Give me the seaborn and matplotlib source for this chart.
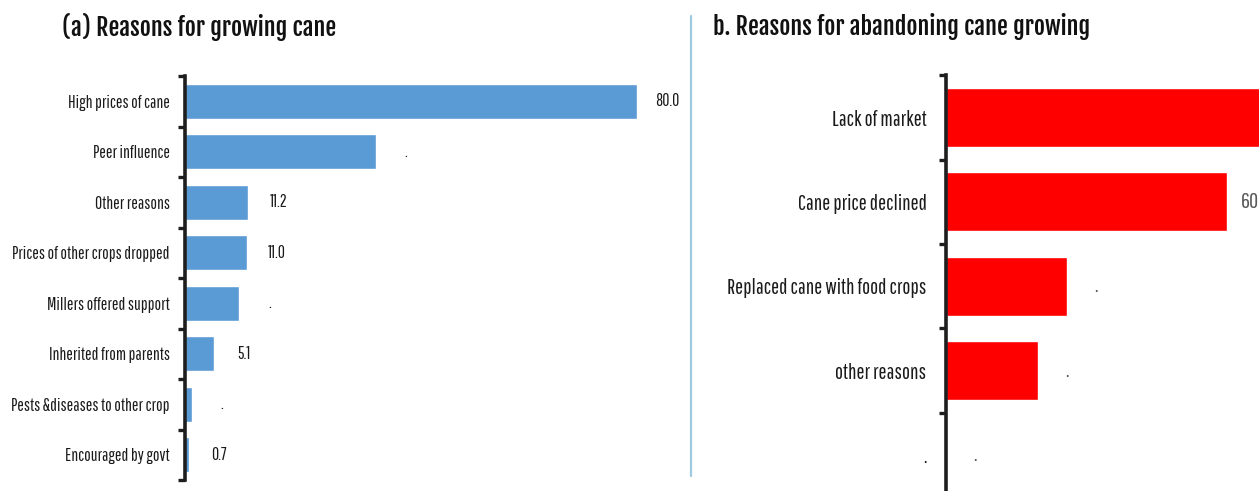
import matplotlib
matplotlib.use("Agg")
import matplotlib.pyplot as plt
import seaborn as sns
import pandas as pd
import numpy as np

# panel (a) data
grow_reasons = ["High prices of cane", "Peer influence", "Other reasons",
                "Prices of other crops dropped", "Millers offered support",
                "Inherited from parents", "Pests &diseases to other crop",
                "Encouraged by govt"]
grow_values = [80.0, 33.8, 11.2, 11.0, 9.6, 5.1, 1.2, 0.7]
grow_labels = ["80.0", ".", "11.2", "11.0", ".", "5.1", ".", "0.7"]

# panel (b) data
quit_reasons = ["Lack of market", "Cane price declined",
                "Replaced cane with food crops", "other reasons", "."]
quit_values = [70.0, 60.0, 25.8, 19.6, 0.0]
quit_labels = [".", "60.0", ".", ".", "."]

sns.set_theme(style="white")
LABEL_FONT = ['Pathway Gothic One', 'Roboto Condensed', 'DejaVu Sans']
TITLE_FONT = ['Fjalla One', 'Oswald', 'Roboto Condensed', 'DejaVu Sans']
plt.rcParams['font.family'] = LABEL_FONT

W, H = 1259, 491
fig = plt.figure(figsize=(W / 100, H / 100), dpi=100)


def px_axes(x0, y0, x1, y1):
    # pixel box (top-left origin) -> figure axes
    return fig.add_axes([x0 / W, 1 - y1 / H, (x1 - x0) / W, (y1 - y0) / H])


def style_axis(ax, n, fs, pad):
    for s in ["top", "right", "bottom"]:
        ax.spines[s].set_visible(False)
    ax.spines["left"].set_linewidth(2.6)
    ax.spines["left"].set_color("#1e1e1e")
    ax.set_xlabel("")
    ax.set_ylabel("")
    ax.set_xticks([])
    ax.set_ylim(n - 0.5, -0.5)
    ax.set_yticks(np.arange(-0.5, n + 0.5, 1.0), minor=True)
    ax.tick_params(axis="y", which="minor", length=5, width=2.4, color="#1e1e1e", left=True)
    ax.tick_params(axis="y", which="major", length=0, pad=pad, labelsize=fs, labelcolor="#1a1a1a")


# ---- panel (a)
df_a = pd.DataFrame({"reason": grow_reasons, "value": grow_values})
ax1 = px_axes(185, 76, 685, 480)
sns.barplot(data=df_a, x="value", y="reason", orient="h", color="#5B9BD5",
            saturation=1, width=0.69, ax=ax1)
ax1.set_xlim(0, 500 / 5.65)
style_axis(ax1, len(grow_reasons), 12.5, 11)
for i, (v, lab) in enumerate(zip(grow_values, grow_labels)):
    ax1.annotate(lab, (v, i), xytext=(30 * 0.72, 0), textcoords="offset points",
                 ha="center", va="center", fontsize=12.5, color="#1a1a1a")

# ---- panel (b)
df_b = pd.DataFrame({"reason": quit_reasons, "value": quit_values})
ax2 = px_axes(946, 75.5, 1259, 497)
sns.barplot(data=df_b, x="value", y="reason", orient="h", color="#FF0000",
            saturation=1, width=0.70, ax=ax2)
ax2.set_xlim(0, 313 / 4.683)
style_axis(ax2, len(quit_reasons), 15.3, 14)
for i, (v, lab) in enumerate(zip(quit_values, quit_labels)):
    ax2.annotate(lab, (v, i), xytext=(29 * 0.72, 0), textcoords="offset points",
                 ha="center", va="center", fontsize=16, color="#595959")

# titles and separator
fig.text(62 / W, 1 - 27 / H, "(a) Reasons for growing cane", fontsize=17.4,
         family=TITLE_FONT, ha="left", va="center", color="#111111")
fig.text(713 / W, 1 - 27 / H, "b. Reasons for abandoning cane growing", fontsize=17.4,
         family=TITLE_FONT, ha="left", va="center", color="#111111")
fig.add_artist(plt.Line2D([691 / W, 691 / W], [1 - 16 / H, 1 - 476 / H],
                          color="#9ECAE1", linewidth=1.6))

fig.savefig("out.png", dpi=100)
